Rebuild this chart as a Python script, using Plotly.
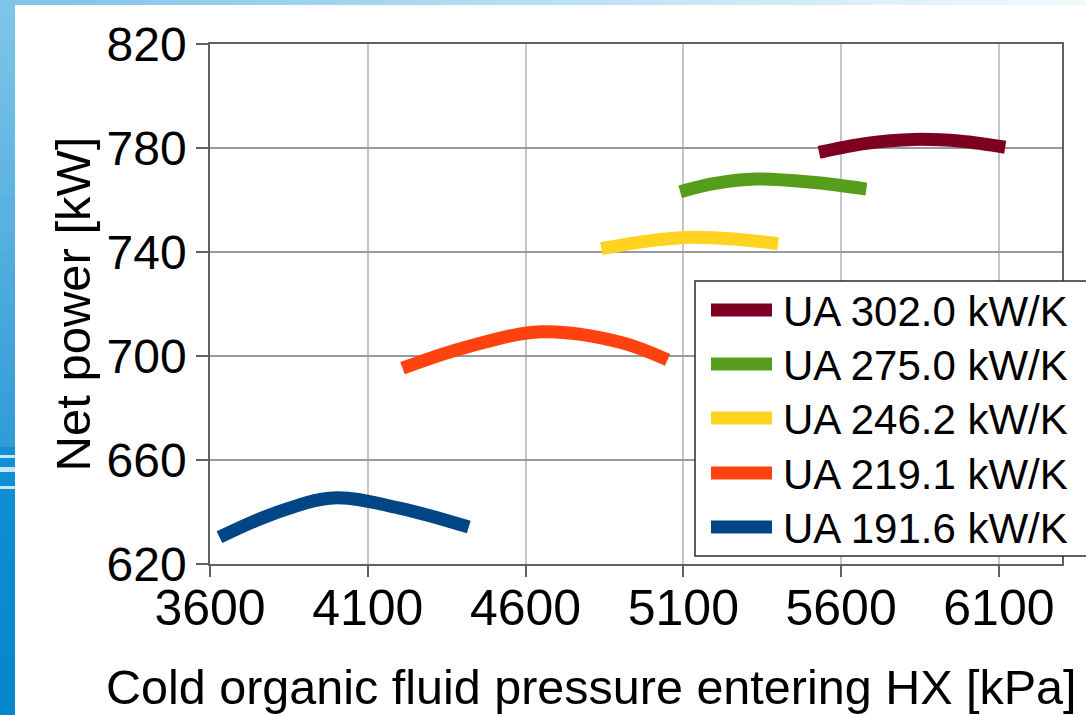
import plotly.graph_objects as go

# ---------------- data ----------------
series_names = ["UA 302.0 kW/K", "UA 275.0 kW/K", "UA 246.2 kW/K", "UA 219.1 kW/K", "UA 191.6 kW/K"]
series_colors = ["#7e0021", "#579d1c", "#ffd320", "#ff420e", "#004586"]

x_ua302 = [5530, 5680, 5830, 5980, 6120]
y_ua302 = [778.3, 781.8, 783.3, 782.6, 780.3]

x_ua275 = [5090, 5200, 5330, 5510, 5680]
y_ua275 = [763.2, 766.4, 768.1, 766.8, 764.2]

x_ua246 = [4840, 4985, 5120, 5260, 5400]
y_ua246 = [741.3, 744.2, 745.7, 745.0, 743.2]

x_ua219 = [4210, 4400, 4650, 4900, 5050]
y_ua219 = [695.3, 703.0, 709.3, 705.3, 698.5]

x_ua191 = [3630, 3800, 3990, 4200, 4420]
y_ua191 = [630.3, 639.3, 645.4, 641.5, 634.2]

x_ticks = [3600, 4100, 4600, 5100, 5600, 6100]
y_ticks = [620, 660, 700, 740, 780, 820]

x_title = "Cold organic fluid pressure entering HX [kPa]"
y_title = "Net power [kW]"

series_x = [x_ua302, x_ua275, x_ua246, x_ua219, x_ua191]
series_y = [y_ua302, y_ua275, y_ua246, y_ua219, y_ua191]

# ---------------- layout geometry ----------------
W, H = 1086, 715
L, R, T, B = 210, 24, 44, 151
PW, PH = W - L - R, H - T - B
FONT = "Liberation Sans, Arial, sans-serif"


def px(xpix):
    return (xpix - L) / PW


def py(ypix):
    return (H - B - ypix) / PH


fig = go.Figure()
for name, color, xs, ys in zip(series_names, series_colors, series_x, series_y):
    fig.add_trace(go.Scatter(
        x=xs, y=ys, mode="lines", name=name,
        line=dict(color=color, width=13, shape="spline", smoothing=1.0),
        showlegend=False,
    ))

shapes = []


def hexmix(c1, c2, t):
    a = [int(c1[i:i + 2], 16) for i in (1, 3, 5)]
    b = [int(c2[i:i + 2], 16) for i in (1, 3, 5)]
    return "#" + "".join(f"{round(a[k] + (b[k] - a[k]) * t):02x}" for k in range(3))


# decorative background: left band (vertical gradient)
n = 40
for i in range(n):
    y0 = H * i / n
    y1 = H * (i + 1) / n + 1
    if y0 < 440:
        c = hexmix("#7fc5e8", "#2f9bd8", y0 / 440)
    else:
        c = hexmix("#1290d2", "#0386cc", (y0 - 440) / (H - 440))
    shapes.append(dict(type="rect", xref="paper", yref="paper", layer="below",
                       x0=px(0), x1=px(15), y0=py(y1), y1=py(y0),
                       fillcolor=c, line=dict(width=0)))
for yy, hh in [(455, 3), (467, 5), (486, 3)]:
    shapes.append(dict(type="rect", xref="paper", yref="paper", layer="below",
                       x0=px(0), x1=px(15), y0=py(yy + hh), y1=py(yy),
                       fillcolor="#c9e6f5", line=dict(width=0)))
# top band (horizontal gradient)
m = 40
for i in range(m):
    x0 = 15 + (W - 15) * i / m
    x1 = 15 + (W - 15) * (i + 1) / m + 1
    c = hexmix("#80c5e8", "#f2f9fd", i / (m - 1))
    shapes.append(dict(type="rect", xref="paper", yref="paper", layer="below",
                       x0=px(x0), x1=px(x1), y0=py(5), y1=py(0),
                       fillcolor=c, line=dict(width=0)))

# legend box (drawn manually)
leg_left, leg_top, leg_bottom = 695, 281, 556
shapes.append(dict(type="rect", xref="paper", yref="paper", layer="above",
                   x0=px(leg_left), x1=px(W + 10), y0=py(leg_bottom), y1=py(leg_top),
                   fillcolor="white", line=dict(color="#2b2b2b", width=1.5)))
row_centers = [310, 364, 418, 473, 527]
annotations = []
for name, color, rc in zip(series_names, series_colors, row_centers):
    shapes.append(dict(type="line", xref="paper", yref="paper", layer="above",
                       x0=px(711), x1=px(772), y0=py(rc), y1=py(rc),
                       line=dict(color=color, width=13)))
    annotations.append(dict(xref="paper", yref="paper", x=px(781), y=py(rc + 1),
                            xanchor="left", yanchor="middle", showarrow=False,
                            text=name, font=dict(family=FONT, size=42, color="black")))

# x axis title (offset to the left as in the reference)
annotations.append(dict(xref="paper", yref="paper", x=px(591), y=py(687),
                        xanchor="center", yanchor="middle", showarrow=False,
                        text=x_title, font=dict(family=FONT, size=48.5, color="black")))

fig.update_layout(
    width=W, height=H, autosize=False,
    margin=dict(l=L, r=R, t=T, b=B, pad=0),
    paper_bgcolor="white", plot_bgcolor="white",
    font=dict(family=FONT, color="black"),
    shapes=shapes, annotations=annotations,
    showlegend=False,
)
fig.update_xaxes(
    range=[3600, 6300], tickmode="array", tickvals=x_ticks,
    ticktext=[str(v) for v in x_ticks],
    tickfont=dict(family=FONT, size=50, color="black"),
    ticklabelstandoff=-12,
    showgrid=True, gridcolor="#c6c6c6", gridwidth=1.5,
    showline=True, linecolor="#606060", linewidth=1.5, mirror=True,
    ticks="outside", ticklen=11, tickcolor="#606060", tickwidth=1.5,
    zeroline=False,
)
fig.update_yaxes(
    range=[620, 820], tickmode="array", tickvals=y_ticks,
    ticktext=[str(v) for v in y_ticks],
    tickfont=dict(family=FONT, size=48, color="black"),
    showgrid=True, gridcolor="#9a9a9a", gridwidth=1.5,
    showline=True, linecolor="#606060", linewidth=1.5, mirror=True,
    ticks="outside", ticklen=12, tickcolor="#606060", tickwidth=1.5,
    zeroline=False,
    title=dict(text=y_title, font=dict(family=FONT, size=49, color="black"), standoff=0),
)

fig.write_html("out.html")
